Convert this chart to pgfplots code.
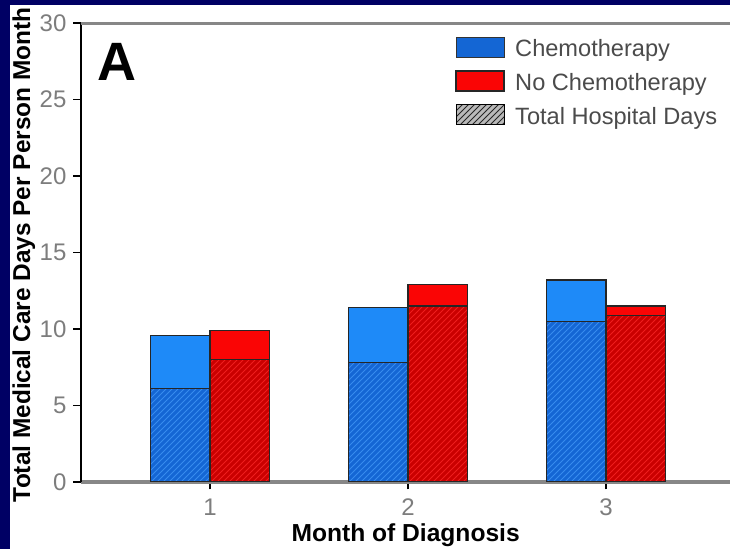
\documentclass[border=0pt]{standalone}
\usepackage{pgfplots}
\pgfplotsset{compat=1.18}
\usepackage{pgfplotstable}
\usepackage{fontspec}
\setmainfont{Liberation Sans}
\usetikzlibrary{patterns}

\definecolor{navybg}{RGB}{0,0,100}
\definecolor{chemoTop}{RGB}{30,138,248}
\definecolor{chemoHosp}{RGB}{20,102,212}
\definecolor{chemoHatch}{RGB}{55,140,238}
\definecolor{noTop}{RGB}{250,5,5}
\definecolor{noHosp}{RGB}{202,0,0}
\definecolor{noHatch}{RGB}{238,30,30}
\definecolor{ticktext}{RGB}{125,125,125}
\definecolor{legtext}{RGB}{75,75,75}
\definecolor{axisgrey}{RGB}{135,135,135}

% total care days and hospital days per person month
\pgfplotstableread{
month chemoTotal chemoHosp noTotal noHosp
1     9.6        6.1       9.9     8.0
2     11.4       7.8       12.9    11.5
3     13.2       10.5      11.5    10.9
}\caredays

\begin{document}
\begin{tikzpicture}
\useasboundingbox (0,0) rectangle (365pt,274.5pt);
\fill[navybg] (0,0) rectangle (365pt,274.5pt);
\fill[white] (5pt,0) rectangle (365pt,272pt);
\begin{axis}[
  at={(40.5pt,33.5pt)}, anchor=south west,
  scale only axis, width=341.7pt, height=229.5pt,
  xmin=0.348, xmax=3.8, ymin=0, ymax=30,
  xtick={1,2,3}, ytick={0,5,...,30},
  axis x line*=bottom, axis y line*=left,
  tick align=outside,
  major tick length=3.75pt,
  tick style={black, line width=0.8pt},
  x axis line style={draw=axisgrey, line width=1.6pt},
  y axis line style={draw=black, line width=0.9pt},
  /pgf/number format/assume math mode=true,
  tick label style={font=\fontsize{12}{14}\selectfont, text=ticktext},
  xticklabel style={yshift=-1pt},
  xlabel={Month of Diagnosis},
  ylabel={Total Medical Care Days Per Person Month},
  every axis x label/.style={at={(axis description cs:0.475,-0.115)}, anchor=center,
    font=\fontsize{12.3}{14}\selectfont\bfseries},
  every axis y label/.style={at={(axis description cs:-0.0835,0.495)}, rotate=90, anchor=center,
    font=\fontsize{12.2}{14}\selectfont\bfseries},
  legend style={at={(axis description cs:0.5385,0.98)}, anchor=north west,
    draw=none, fill=none, font=\fontsize{11.8}{13}\selectfont, text=legtext,
    row sep=6.2pt, column sep=5pt,
    nodes={inner sep=0pt, text height=9.5pt, text depth=0pt}},
  legend cell align=left,
]
% chemotherapy: whole bar, then hospital share drawn over it
\addplot[ybar, bar width=29.75pt, bar shift=-14.875pt, fill=chemoTop,
  draw=black!85, line width=0.6pt, forget plot]
  table[x=month, y=chemoTotal] {\caredays};
\addplot[ybar, bar width=29.75pt, bar shift=-14.875pt, fill=chemoHosp,
  draw=black!85, line width=0.6pt, forget plot,
  postaction={pattern=north east lines, pattern color=chemoHatch}]
  table[x=month, y=chemoHosp] {\caredays};
% no chemotherapy
\addplot[ybar, bar width=29.75pt, bar shift=14.875pt, fill=noTop,
  draw=black!85, line width=0.6pt, forget plot]
  table[x=month, y=noTotal] {\caredays};
\addplot[ybar, bar width=29.75pt, bar shift=14.875pt, fill=noHosp,
  draw=black!85, line width=0.6pt, forget plot,
  postaction={pattern=north east lines, pattern color=noHatch}]
  table[x=month, y=noHosp] {\caredays};

\addlegendimage{legend image code/.code={
  \draw[fill=chemoHosp, draw=black!80, line width=0.6pt] (0pt,-5pt) rectangle (24pt,5pt);}}
\addlegendentry{Chemotherapy}
\addlegendimage{legend image code/.code={
  \draw[fill=noTop, draw=black!85, line width=0.9pt] (0pt,-5pt) rectangle (24pt,5pt);}}
\addlegendentry{No Chemotherapy}
\addlegendimage{legend image code/.code={
  \fill[gray!55] (0pt,-5pt) rectangle (24pt,5pt);
  \fill[pattern=north east lines, pattern color=black!85] (0pt,-5pt) rectangle (24pt,5pt);}}
\addlegendentry{Total Hospital Days}

% grey frame line along the top of the plot area
\draw[draw=axisgrey, line width=1.6pt] (rel axis cs:0,1) -- (rel axis cs:1,1);

\node[font=\fontsize{27}{30}\selectfont\bfseries, anchor=center]
  at (axis description cs:0.0527,0.915) {A};
\end{axis}
\end{tikzpicture}
\end{document}
